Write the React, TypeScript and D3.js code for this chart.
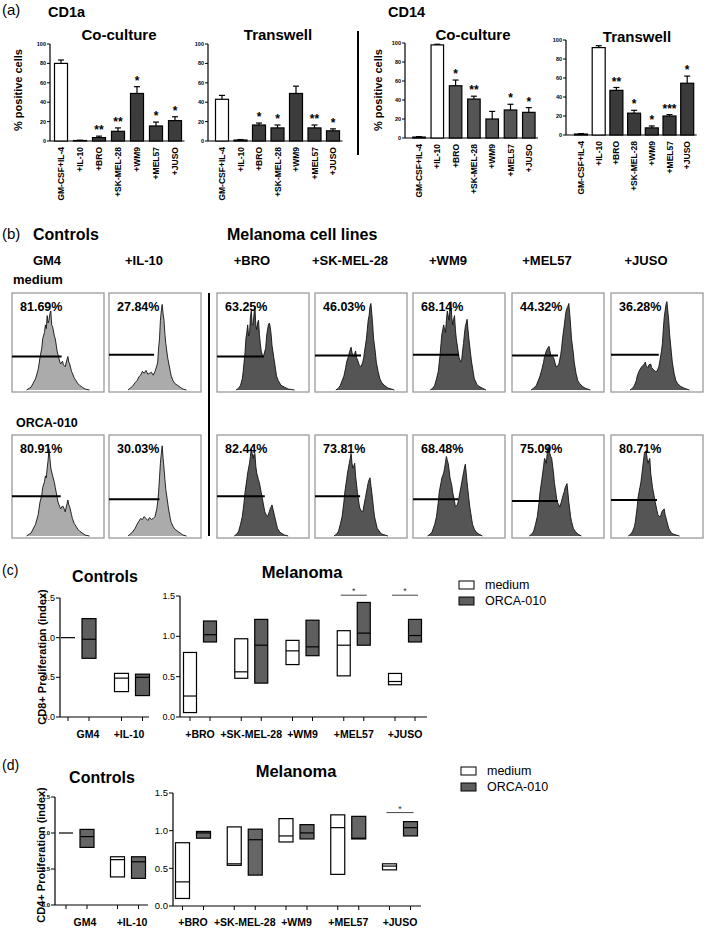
import React from "react";
import * as d3 from "d3";

const FONT = "'Liberation Sans', Arial, Helvetica, sans-serif";

// ---------- Panel (a): bar charts ----------
const barCategories = ["GM-CSF+IL-4", "+IL-10", "+BRO", "+SK-MEL-28", "+WM9", "+MEL57", "+JUSO"];
const pctTicks = [0, 20, 40, 60, 80, 100];

const cd1aCoMean = [80, 0.5, 3.5, 10, 49, 15.5, 21];
const cd1aCoErr = [3.5, 0.3, 1.5, 3.5, 7, 4, 4];
const cd1aCoSig = ["", "", "**", "**", "*", "*", "*"];

const cd1aTwMean = [43, 1, 16.5, 13.5, 49, 13.5, 10.5];
const cd1aTwErr = [4, 0.5, 2, 3, 7.5, 3, 2];
const cd1aTwSig = ["", "", "*", "*", "", "**", "*"];

const cd14CoMean = [1, 98, 55, 41, 20, 29.5, 27];
const cd14CoErr = [0.5, 0.7, 6, 3, 8, 6, 5];
const cd14CoSig = ["", "", "*", "**", "", "*", "*"];

const cd14TwMean = [1, 92, 47, 23, 7.5, 20, 54.5];
const cd14TwErr = [0.5, 2, 3, 3, 2, 1.5, 7.5];
const cd14TwSig = ["", "", "**", "*", "*", "***", "*"];

// ---------- Panel (b): flow histograms ----------
const histColumns = ["GM4", "+IL-10", "+BRO", "+SK-MEL-28", "+WM9", "+MEL57", "+JUSO"];
const mediumPct = ["81.69%", "27.84%", "63.25%", "46.03%", "68.14%", "44.32%", "36.28%"];
const orcaPct = ["80.91%", "30.03%", "82.44%", "73.81%", "68.48%", "75.09%", "80.71%"];
const mediumGateLevel = [0.36, 0.38, 0.36, 0.37, 0.38, 0.37, 0.38];
const mediumGateEnd = [0.54, 0.49, 0.51, 0.5, 0.5, 0.5, 0.52];
const orcaGateLevel = [0.41, 0.38, 0.41, 0.41, 0.38, 0.36, 0.37];
const orcaGateEnd = [0.53, 0.55, 0.52, 0.49, 0.49, 0.5, 0.5];

type P = [number, number];
const mediumHist: P[][] = [
  [[0.15,0],[0.2,0.03],[0.25,0.12],[0.28,0.22],[0.3,0.35],[0.32,0.45],[0.33,0.55],[0.35,0.62],[0.36,0.7],[0.37,0.66],[0.38,0.8],[0.39,0.72],[0.4,0.75],[0.41,0.82],[0.42,0.85],[0.43,0.7],[0.44,0.68],[0.46,0.58],[0.47,0.55],[0.49,0.42],[0.5,0.38],[0.52,0.3],[0.53,0.28],[0.55,0.31],[0.56,0.27],[0.58,0.25],[0.6,0.33],[0.61,0.36],[0.62,0.3],[0.63,0.28],[0.65,0.2],[0.66,0.18],[0.68,0.13],[0.7,0.1],[0.72,0.07],[0.74,0.05],[0.77,0.03],[0.8,0.01],[0.85,0]],
  [[0.2,0],[0.25,0.04],[0.28,0.08],[0.3,0.1],[0.32,0.14],[0.34,0.16],[0.36,0.2],[0.38,0.18],[0.4,0.21],[0.42,0.17],[0.44,0.18],[0.46,0.19],[0.48,0.16],[0.5,0.2],[0.52,0.26],[0.53,0.3],[0.54,0.45],[0.55,0.55],[0.56,0.75],[0.57,0.85],[0.58,0.92],[0.59,0.82],[0.6,0.75],[0.61,0.6],[0.62,0.5],[0.64,0.35],[0.65,0.3],[0.67,0.2],[0.68,0.15],[0.7,0.1],[0.72,0.07],[0.75,0.05],[0.78,0.03],[0.81,0.01],[0.85,0]],
  [[0.2,0],[0.23,0.02],[0.25,0.05],[0.27,0.12],[0.28,0.2],[0.3,0.4],[0.31,0.55],[0.32,0.62],[0.33,0.7],[0.34,0.58],[0.35,0.6],[0.36,0.78],[0.37,0.85],[0.38,0.7],[0.39,0.7],[0.4,0.82],[0.41,0.9],[0.42,0.7],[0.43,0.65],[0.44,0.72],[0.45,0.75],[0.46,0.6],[0.47,0.5],[0.48,0.42],[0.5,0.35],[0.51,0.38],[0.53,0.45],[0.54,0.58],[0.55,0.65],[0.56,0.7],[0.57,0.72],[0.58,0.68],[0.59,0.6],[0.6,0.48],[0.62,0.35],[0.64,0.22],[0.65,0.15],[0.67,0.1],[0.7,0.05],[0.74,0.03],[0.78,0.01],[0.85,0]],
  [[0.22,0],[0.25,0.02],[0.27,0.05],[0.29,0.1],[0.31,0.15],[0.33,0.24],[0.34,0.3],[0.36,0.36],[0.37,0.4],[0.38,0.43],[0.39,0.46],[0.4,0.4],[0.41,0.38],[0.42,0.36],[0.44,0.42],[0.45,0.35],[0.47,0.3],[0.48,0.27],[0.5,0.25],[0.52,0.3],[0.53,0.35],[0.54,0.42],[0.56,0.55],[0.57,0.65],[0.58,0.75],[0.59,0.8],[0.6,0.9],[0.61,0.93],[0.62,0.82],[0.63,0.7],[0.64,0.55],[0.66,0.4],[0.67,0.3],[0.69,0.2],[0.71,0.12],[0.73,0.08],[0.76,0.05],[0.8,0.02],[0.84,0.01],[0.87,0]],
  [[0.18,0],[0.21,0.02],[0.23,0.05],[0.25,0.12],[0.27,0.2],[0.29,0.38],[0.3,0.5],[0.31,0.6],[0.33,0.7],[0.34,0.65],[0.35,0.62],[0.36,0.75],[0.37,0.85],[0.38,0.8],[0.39,0.75],[0.4,0.88],[0.41,0.95],[0.42,0.78],[0.43,0.7],[0.44,0.76],[0.45,0.8],[0.46,0.65],[0.47,0.55],[0.49,0.42],[0.5,0.35],[0.52,0.3],[0.53,0.32],[0.54,0.42],[0.55,0.5],[0.56,0.6],[0.57,0.68],[0.58,0.72],[0.59,0.76],[0.6,0.65],[0.61,0.55],[0.63,0.38],[0.64,0.3],[0.66,0.18],[0.67,0.12],[0.7,0.06],[0.72,0.04],[0.76,0.02],[0.8,0]],
  [[0.2,0],[0.23,0.02],[0.26,0.05],[0.28,0.1],[0.3,0.15],[0.32,0.22],[0.34,0.3],[0.35,0.36],[0.37,0.42],[0.38,0.44],[0.4,0.47],[0.41,0.42],[0.42,0.38],[0.44,0.36],[0.45,0.35],[0.47,0.28],[0.48,0.25],[0.5,0.26],[0.51,0.28],[0.53,0.38],[0.54,0.45],[0.55,0.55],[0.57,0.7],[0.58,0.78],[0.59,0.85],[0.6,0.88],[0.61,0.9],[0.62,0.93],[0.63,0.82],[0.64,0.7],[0.65,0.55],[0.67,0.4],[0.68,0.3],[0.7,0.18],[0.72,0.1],[0.74,0.07],[0.77,0.04],[0.8,0.02],[0.86,0]],
  [[0.2,0],[0.23,0.02],[0.25,0.05],[0.27,0.1],[0.28,0.15],[0.3,0.2],[0.31,0.22],[0.33,0.25],[0.34,0.26],[0.36,0.28],[0.37,0.3],[0.38,0.26],[0.4,0.24],[0.41,0.27],[0.43,0.28],[0.44,0.24],[0.46,0.22],[0.48,0.2],[0.5,0.2],[0.52,0.25],[0.53,0.3],[0.55,0.42],[0.56,0.5],[0.57,0.65],[0.58,0.78],[0.59,0.85],[0.6,0.92],[0.61,0.95],[0.62,0.85],[0.63,0.75],[0.64,0.6],[0.66,0.4],[0.67,0.3],[0.69,0.18],[0.71,0.1],[0.73,0.07],[0.76,0.04],[0.8,0.02],[0.86,0]],
];
const orcaHist: P[][] = [
  [[0.15,0],[0.2,0.03],[0.25,0.12],[0.28,0.22],[0.3,0.35],[0.32,0.42],[0.33,0.5],[0.35,0.56],[0.36,0.62],[0.37,0.6],[0.38,0.7],[0.39,0.78],[0.4,0.9],[0.41,0.8],[0.42,0.7],[0.43,0.66],[0.44,0.62],[0.46,0.55],[0.47,0.5],[0.49,0.4],[0.5,0.35],[0.52,0.3],[0.53,0.28],[0.55,0.31],[0.56,0.3],[0.58,0.25],[0.6,0.33],[0.61,0.37],[0.62,0.32],[0.63,0.3],[0.65,0.22],[0.66,0.18],[0.68,0.13],[0.7,0.1],[0.72,0.07],[0.74,0.05],[0.77,0.03],[0.8,0.01],[0.85,0]],
  [[0.2,0],[0.25,0.04],[0.28,0.08],[0.3,0.12],[0.32,0.15],[0.34,0.18],[0.36,0.17],[0.38,0.2],[0.4,0.18],[0.42,0.16],[0.44,0.19],[0.46,0.17],[0.48,0.18],[0.5,0.2],[0.52,0.28],[0.53,0.35],[0.54,0.45],[0.55,0.6],[0.56,0.75],[0.57,0.85],[0.58,0.93],[0.59,0.8],[0.6,0.7],[0.61,0.58],[0.62,0.48],[0.64,0.35],[0.65,0.28],[0.67,0.18],[0.68,0.14],[0.7,0.1],[0.72,0.07],[0.75,0.05],[0.78,0.03],[0.81,0.01],[0.85,0]],
  [[0.18,0],[0.21,0.02],[0.23,0.05],[0.25,0.12],[0.27,0.2],[0.29,0.35],[0.3,0.45],[0.32,0.58],[0.33,0.65],[0.34,0.7],[0.35,0.75],[0.36,0.82],[0.37,0.9],[0.38,0.85],[0.39,0.8],[0.4,0.84],[0.41,0.85],[0.42,0.72],[0.43,0.65],[0.45,0.58],[0.46,0.55],[0.48,0.45],[0.49,0.4],[0.51,0.3],[0.52,0.25],[0.54,0.21],[0.55,0.2],[0.57,0.25],[0.58,0.28],[0.59,0.3],[0.6,0.32],[0.61,0.28],[0.63,0.2],[0.65,0.12],[0.66,0.08],[0.68,0.05],[0.7,0.03],[0.74,0.01],[0.78,0]],
  [[0.2,0],[0.23,0.02],[0.25,0.05],[0.27,0.12],[0.29,0.2],[0.31,0.35],[0.32,0.45],[0.34,0.58],[0.35,0.65],[0.36,0.7],[0.37,0.75],[0.38,0.8],[0.39,0.85],[0.4,0.75],[0.41,0.7],[0.42,0.72],[0.43,0.75],[0.44,0.62],[0.46,0.45],[0.48,0.32],[0.49,0.28],[0.51,0.25],[0.52,0.25],[0.54,0.35],[0.55,0.4],[0.57,0.5],[0.58,0.55],[0.59,0.58],[0.6,0.6],[0.61,0.52],[0.62,0.45],[0.64,0.28],[0.65,0.2],[0.67,0.12],[0.68,0.08],[0.71,0.04],[0.73,0.02],[0.8,0]],
  [[0.15,0],[0.18,0.02],[0.2,0.04],[0.23,0.12],[0.25,0.2],[0.27,0.35],[0.28,0.45],[0.3,0.55],[0.31,0.6],[0.33,0.65],[0.34,0.7],[0.35,0.76],[0.36,0.82],[0.37,0.78],[0.38,0.75],[0.39,0.68],[0.4,0.6],[0.42,0.52],[0.43,0.45],[0.45,0.36],[0.46,0.3],[0.48,0.32],[0.49,0.35],[0.51,0.45],[0.52,0.5],[0.54,0.6],[0.55,0.65],[0.56,0.7],[0.57,0.74],[0.58,0.65],[0.59,0.55],[0.61,0.38],[0.62,0.3],[0.64,0.18],[0.65,0.12],[0.67,0.07],[0.69,0.04],[0.72,0.02],[0.76,0]],
  [[0.18,0],[0.21,0.02],[0.23,0.05],[0.25,0.12],[0.27,0.2],[0.29,0.35],[0.3,0.45],[0.32,0.58],[0.33,0.65],[0.34,0.72],[0.35,0.8],[0.36,0.78],[0.37,0.75],[0.38,0.85],[0.39,0.92],[0.4,0.88],[0.41,0.85],[0.42,0.82],[0.43,0.8],[0.45,0.65],[0.46,0.55],[0.48,0.42],[0.49,0.35],[0.51,0.32],[0.52,0.3],[0.54,0.36],[0.55,0.4],[0.57,0.46],[0.58,0.5],[0.59,0.52],[0.6,0.54],[0.61,0.45],[0.62,0.35],[0.64,0.2],[0.65,0.15],[0.67,0.08],[0.69,0.05],[0.72,0.02],[0.76,0]],
  [[0.18,0],[0.21,0.02],[0.23,0.05],[0.25,0.1],[0.26,0.15],[0.28,0.3],[0.29,0.4],[0.31,0.5],[0.32,0.55],[0.33,0.62],[0.34,0.7],[0.35,0.78],[0.36,0.85],[0.37,0.86],[0.38,0.88],[0.39,0.8],[0.4,0.75],[0.41,0.78],[0.42,0.8],[0.43,0.65],[0.45,0.5],[0.47,0.4],[0.48,0.35],[0.5,0.26],[0.51,0.22],[0.53,0.2],[0.54,0.2],[0.55,0.24],[0.56,0.26],[0.57,0.27],[0.58,0.28],[0.59,0.22],[0.61,0.15],[0.63,0.08],[0.64,0.06],[0.66,0.03],[0.68,0.02],[0.75,0]],
];

// ---------- Panels (c), (d): floating min–max boxes with median ----------
const ctrlGroups = ["GM4", "+IL-10"];
const melGroups = ["+BRO", "+SK-MEL-28", "+WM9", "+MEL57", "+JUSO"];
const indexTicks = [0, 0.5, 1.0, 1.5];
// each entry: [min, median, max]
const cd8CtrlMedium = [[1.0, 1.0, 1.0], [0.32, 0.49, 0.55]];
const cd8CtrlOrca = [[0.74, 0.98, 1.24], [0.27, 0.5, 0.54]];
const cd8MelMedium = [[0.055, 0.26, 0.8], [0.48, 0.56, 0.97], [0.65, 0.82, 0.95], [0.51, 0.89, 1.07], [0.4, 0.44, 0.54]];
const cd8MelOrca = [[0.93, 1.02, 1.19], [0.42, 0.89, 1.21], [0.76, 0.87, 1.2], [0.89, 1.04, 1.42], [0.93, 1.01, 1.21]];
const cd8Sig = ["", "", "", "*", "*"];

const cd4CtrlMedium = [[1.0, 1.0, 1.0], [0.39, 0.63, 0.67]];
const cd4CtrlOrca = [[0.8, 0.95, 1.05], [0.37, 0.6, 0.67]];
const cd4MelMedium = [[0.1, 0.32, 0.84], [0.54, 0.56, 1.05], [0.85, 0.93, 1.16], [0.42, 1.04, 1.21], [0.48, 0.53, 0.56]];
const cd4MelOrca = [[0.9, 0.97, 0.99], [0.41, 0.88, 1.02], [0.89, 0.97, 1.08], [0.89, 0.9, 1.19], [0.93, 1.04, 1.12]];
const cd4Sig = ["", "", "", "", "*"];

const legendLabels = ["medium", "ORCA-010"];

// ---------------- components ----------------
type BarProps = {
  title: string; titleX: number; titleY: number;
  mean: number[]; err: number[]; sig: string[];
  axisX: number; y0: number; y100: number;
  firstCenter: number; step: number; barW: number; dark: string;
};

function BarChart(p: BarProps) {
  const y = d3.scaleLinear().domain([0, 100]).range([p.y0, p.y100]);
  const pad = 1 - p.barW / p.step;
  const start = p.firstCenter - p.step / 2;
  const x = d3.scaleBand<string>().domain(barCategories)
    .range([start, start + barCategories.length * p.step])
    .paddingInner(pad).paddingOuter(pad / 2);
  const lastRight = (x(barCategories[barCategories.length - 1]) as number) + p.barW + 3;
  return (
    <g>
      <text x={p.titleX} y={p.titleY} textAnchor="middle" fontSize={15} fontWeight="bold">{p.title}</text>
      <line x1={p.axisX} x2={p.axisX} y1={y(100)} y2={p.y0} stroke="#000" strokeWidth={1.2} />
      <line x1={p.axisX} x2={lastRight} y1={p.y0} y2={p.y0} stroke="#000" strokeWidth={1.2} />
      {pctTicks.map((t) => (
        <g key={t}>
          <line x1={p.axisX - 3} x2={p.axisX} y1={y(t)} y2={y(t)} stroke="#000" strokeWidth={1} />
          <text x={p.axisX - 4} y={y(t) + 2} textAnchor="end" fontSize={5.5} fontWeight="bold">{t}</text>
        </g>
      ))}
      {barCategories.map((c, i) => {
        const bx = x(c) as number;
        const cx = bx + p.barW / 2;
        const top = y(p.mean[i]);
        const et = y(p.mean[i] + p.err[i]);
        return (
          <g key={c}>
            <line x1={cx} x2={cx} y1={top} y2={et} stroke="#000" strokeWidth={1.2} />
            <line x1={cx - 3} x2={cx + 3} y1={et} y2={et} stroke="#000" strokeWidth={1.2} />
            <rect x={bx} y={top} width={p.barW} height={Math.max(0.3, p.y0 - top)}
              fill={i < 2 ? "#fff" : p.dark} stroke="#000" strokeWidth={1.2} />
            {p.sig[i] ? (
              <text x={cx} y={et - 2} textAnchor="middle" fontSize={12} fontWeight="bold">{p.sig[i]}</text>
            ) : null}
            <text transform={`translate(${cx + 3},${p.y0 + 6}) rotate(-90)`} textAnchor="end"
              fontSize={8.5} fontWeight="bold">{c}</text>
          </g>
        );
      })}
    </g>
  );
}

const boxLefts = [12, 109, 217, 315, 413, 512, 611];
const boxW = 92;

type HistProps = {
  left: number; top: number; bottom: number; pts: P[]; fill: string;
  pct: string; gateLevel: number; gateEnd: number; pctY: number;
};

function Histo(h: HistProps) {
  const x = d3.scaleLinear().domain([0, 1]).range([h.left + 1, h.left + boxW - 1]);
  const y = d3.scaleLinear().domain([0, 1]).range([h.bottom - 2, h.top + 4]);
  const area = d3.area<P>().x((d) => x(d[0])).y0(h.bottom - 2).y1((d) => y(d[1]));
  const line = d3.line<P>().x((d) => x(d[0])).y((d) => y(d[1]));
  return (
    <g>
      <rect x={h.left} y={h.top} width={boxW} height={h.bottom - h.top} fill="#fff" stroke="#9a9a9a" strokeWidth={1.3} />
      <path d={area(h.pts) || ""} fill={h.fill} />
      <path d={line(h.pts) || ""} fill="none" stroke="#111" strokeWidth={0.9} />
      <line x1={h.left} x2={x(h.gateEnd)} y1={y(h.gateLevel)} y2={y(h.gateLevel)} stroke="#000" strokeWidth={2} />
      <text x={h.left + 8} y={h.pctY} fontSize={12.5} fontWeight="bold">{h.pct}</text>
    </g>
  );
}

type BoxProps = {
  groups: string[]; medium: number[][]; orca: number[][];
  axisX: number; axisEnd: number; y0: number; y15: number;
  first: number; last: number; off: number; bw: number;
  tickFont: number; tickBold: boolean; labelCenters?: number[]; labelY: number;
  sig?: string[]; sigVal?: number; orcaFill: string;
};

function BoxPanel(b: BoxProps) {
  const y = d3.scaleLinear().domain([0, 1.5]).range([b.y0, b.y15]);
  const g = d3.scalePoint<string>().domain(b.groups).range([b.first, b.last]);
  const box = (c: number, v: number[], fill: string, key: string) => (
    <g key={key}>
      <rect x={c - b.bw / 2} y={y(v[2])} width={b.bw} height={Math.max(0, y(v[0]) - y(v[2]))}
        fill={fill} stroke="#000" strokeWidth={1.2} />
      <line x1={c - b.bw / 2} x2={c + b.bw / 2} y1={y(v[1])} y2={y(v[1])} stroke="#000" strokeWidth={1.2} />
    </g>
  );
  return (
    <g>
      <line x1={b.axisX} x2={b.axisX} y1={y(1.5)} y2={b.y0} stroke="#000" strokeWidth={1.2} />
      <line x1={b.axisX} x2={b.axisEnd} y1={b.y0} y2={b.y0} stroke="#000" strokeWidth={1.2} />
      {indexTicks.map((t) => (
        <g key={t}>
          <line x1={b.axisX - 4} x2={b.axisX} y1={y(t)} y2={y(t)} stroke="#000" strokeWidth={1} />
          <text x={b.axisX - 5} y={y(t) + b.tickFont * 0.35} textAnchor="end" fontSize={b.tickFont}
            fontWeight={b.tickBold ? "bold" : "normal"}>{t.toFixed(1)}</text>
        </g>
      ))}
      {b.groups.map((grp, i) => {
        const c = g(grp) as number;
        const cm = c - b.off;
        const co = c + b.off;
        const lx = b.labelCenters ? b.labelCenters[i] : c;
        return (
          <g key={grp}>
            <line x1={cm} x2={cm} y1={b.y0} y2={b.y0 + 4} stroke="#000" strokeWidth={1} />
            <line x1={co} x2={co} y1={b.y0} y2={b.y0 + 4} stroke="#000" strokeWidth={1} />
            {box(cm, b.medium[i], "#fff", "m")}
            {box(co, b.orca[i], b.orcaFill, "o")}
            <text x={lx} y={b.labelY} textAnchor="middle" fontSize={10.5} fontWeight="bold">{grp}</text>
            {b.sig && b.sig[i] && b.sigVal !== undefined ? (
              <g>
                <line x1={cm - 3} x2={co + 3} y1={y(b.sigVal)} y2={y(b.sigVal)} stroke="#444" strokeWidth={1} />
                <text x={c} y={y(b.sigVal) - 1} textAnchor="middle" fontSize={9} fill="#333">{b.sig[i]}</text>
              </g>
            ) : null}
          </g>
        );
      })}
    </g>
  );
}

function Legend({ x, y }: { x: number; y: number }) {
  return (
    <g>
      {legendLabels.map((l, i) => (
        <g key={l}>
          <rect x={x} y={y + i * 16} width={15} height={8} fill={i === 0 ? "#fff" : "#5e5e5e"} stroke="#000" strokeWidth={1} />
          <text x={x + 26} y={y + i * 16 + 8} fontSize={12.5}>{l}</text>
        </g>
      ))}
    </g>
  );
}

export default function App() {
  return (
    <svg width={709} height={929} viewBox="0 0 709 929"
      style={{ position: "absolute", left: 0, top: 0, background: "#fff" }} fontFamily={FONT}>
      <rect x={0} y={0} width={709} height={929} fill="#fff" />
      {/* ---- (a) ---- */}
      <text x={2} y={15} fontSize={15}>(a)</text>
      <text x={48} y={17} fontSize={14.5} fontWeight="bold">CD1a</text>
      <text x={388} y={17} fontSize={14.5} fontWeight="bold">CD14</text>
      <text transform="translate(22,90) rotate(-90)" textAnchor="middle" fontSize={11} fontWeight="bold">% positive cells</text>
      <text transform="translate(382,90) rotate(-90)" textAnchor="middle" fontSize={11} fontWeight="bold">% positive cells</text>
      <line x1={358} x2={358} y1={31} y2={155} stroke="#000" strokeWidth={2} />
      <BarChart title="Co-culture" titleX={119} titleY={40} mean={cd1aCoMean} err={cd1aCoErr} sig={cd1aCoSig}
        axisX={50} y0={141} y100={44} firstCenter={61} step={19} barW={13} dark="#3c3c3c" />
      <BarChart title="Transwell" titleX={278} titleY={40} mean={cd1aTwMean} err={cd1aTwErr} sig={cd1aTwSig}
        axisX={208} y0={141} y100={44} firstCenter={222} step={18.5} barW={13} dark="#3c3c3c" />
      <BarChart title="Co-culture" titleX={473} titleY={40} mean={cd14CoMean} err={cd14CoErr} sig={cd14CoSig}
        axisX={405} y0={138} y100={43} firstCenter={419} step={18.3} barW={12.5} dark="#555" />
      <BarChart title="Transwell" titleX={637} titleY={42} mean={cd14TwMean} err={cd14TwErr} sig={cd14TwSig}
        axisX={566} y0={135} y100={40} firstCenter={581} step={17.7} barW={13} dark="#3a3a3a" />

      {/* ---- (b) ---- */}
      <text x={2} y={239} fontSize={15}>(b)</text>
      <text x={33} y={240} fontSize={16} fontWeight="bold">Controls</text>
      <text x={227} y={240} fontSize={16} fontWeight="bold">Melanoma cell lines</text>
      {histColumns.map((c, i) => (
        <text key={c} x={boxLefts[i] + 35} y={265} textAnchor="middle" fontSize={13} fontWeight="bold">{c}</text>
      ))}
      <text x={13} y={284} fontSize={13} fontWeight="bold">medium</text>
      <text x={16} y={427} fontSize={12.5} fontWeight="bold">ORCA-010</text>
      <line x1={209} x2={209} y1={293} y2={536} stroke="#000" strokeWidth={2} />
      {histColumns.map((c, i) => (
        <Histo key={"m" + c} left={boxLefts[i]} top={293} bottom={392} pts={mediumHist[i]}
          fill={i < 2 ? "#ababab" : "#555"} pct={mediumPct[i]} gateLevel={mediumGateLevel[i]}
          gateEnd={mediumGateEnd[i]} pctY={311} />
      ))}
      {histColumns.map((c, i) => (
        <Histo key={"o" + c} left={boxLefts[i]} top={435} bottom={538} pts={orcaHist[i]}
          fill={i < 2 ? "#ababab" : "#555"} pct={orcaPct[i]} gateLevel={orcaGateLevel[i]}
          gateEnd={orcaGateEnd[i]} pctY={453} />
      ))}

      {/* ---- (c) ---- */}
      <text x={2} y={575} fontSize={14}>(c)</text>
      <text x={105} y={582} textAnchor="middle" fontSize={16} fontWeight="bold">Controls</text>
      <text x={302} y={578} textAnchor="middle" fontSize={16.5} fontWeight="bold">Melanoma</text>
      <text transform="translate(46,657) rotate(-90)" textAnchor="middle" fontSize={11} fontWeight="bold">CD8+ Proliferation (index)</text>
      <BoxPanel groups={ctrlGroups} medium={cd8CtrlMedium} orca={cd8CtrlOrca}
        axisX={60} axisEnd={149} y0={717} y15={598} first={78.5} last={132} off={10.5} bw={14}
        tickFont={9} tickBold={false} labelCenters={[88, 129]} labelY={738} orcaFill="#5e5e5e" />
      <BoxPanel groups={melGroups} medium={cd8MelMedium} orca={cd8MelOrca}
        axisX={180} axisEnd={427} y0={717} y15={596} first={200} last={405} off={10} bw={13}
        tickFont={9} tickBold={false} labelY={738} sig={cd8Sig} sigVal={1.51} orcaFill="#5e5e5e" />
      <Legend x={459} y={581} />

      {/* ---- (d) ---- */}
      <text x={2} y={770} fontSize={14}>(d)</text>
      <text x={102} y={783} textAnchor="middle" fontSize={16} fontWeight="bold">Controls</text>
      <text x={296} y={777} textAnchor="middle" fontSize={16.5} fontWeight="bold">Melanoma</text>
      <text transform="translate(45,855) rotate(-90)" textAnchor="middle" fontSize={11} fontWeight="bold">CD4+ Proliferation (index)</text>
      <BoxPanel groups={ctrlGroups} medium={cd4CtrlMedium} orca={cd4CtrlOrca}
        axisX={55} axisEnd={148} y0={905} y15={797} first={76.5} last={128} off={10.5} bw={14}
        tickFont={6} tickBold={true} labelCenters={[85, 132]} labelY={926} orcaFill="#666" />
      <BoxPanel groups={melGroups} medium={cd4MelMedium} orca={cd4MelOrca}
        axisX={173} axisEnd={421} y0={906} y15={793} first={193} last={400} off={10.5} bw={14}
        tickFont={9.5} tickBold={false} labelY={926} sig={cd4Sig} sigVal={1.24} orcaFill="#666" />
      <Legend x={461} y={767} />
    </svg>
  );
}
